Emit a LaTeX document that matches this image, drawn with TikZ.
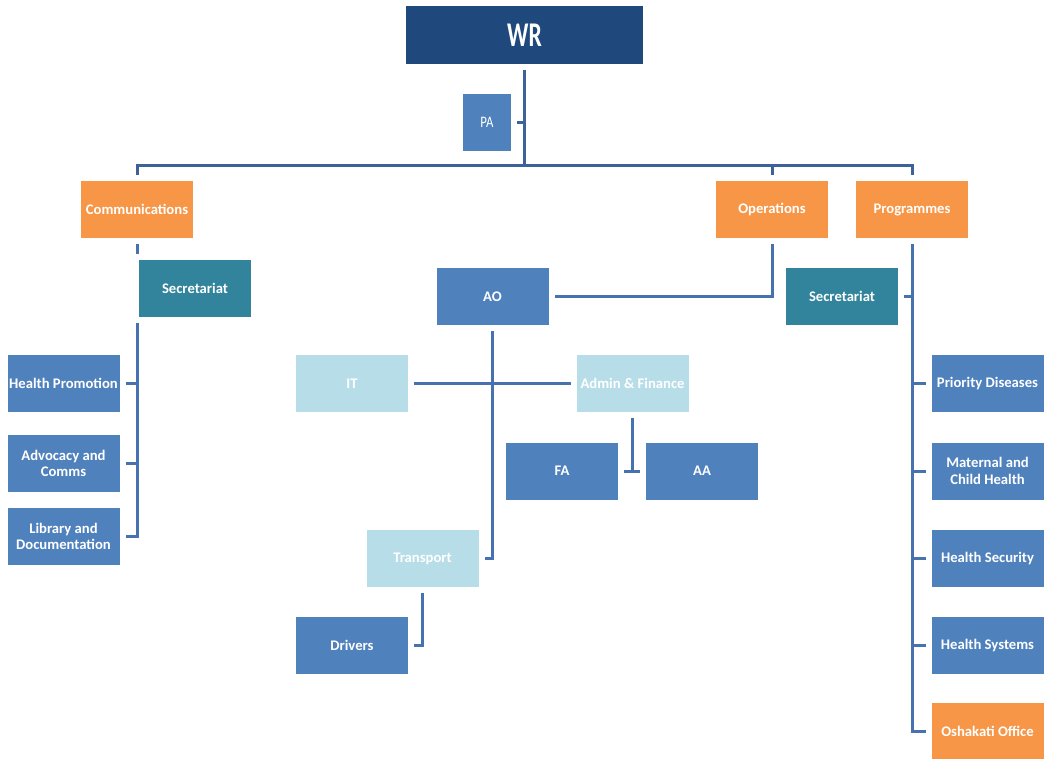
\documentclass[tikz,border=0pt]{standalone}
\usepackage{fontspec}
\setmainfont{Carlito}
\usetikzlibrary{backgrounds}
\definecolor{navy}{HTML}{1F497D}
\definecolor{unitblue}{HTML}{4F81BD}
\definecolor{deptorange}{HTML}{F79646}
\definecolor{secteal}{HTML}{31849B}
\definecolor{lightunit}{HTML}{B7DDE8}
\definecolor{linkblue}{HTML}{4672B0}
\definecolor{toplink}{HTML}{3D6198}
\tikzset{
  unit/.style = {rectangle, draw = white, line width = 4.5pt, inner sep = 0pt,
    minimum width = 88.5pt, minimum height = 47.25pt, text = white, align = center,
    font = \bfseries\fontsize{11}{12.5}\selectfont},
  dept/.style = {unit, fill = deptorange},
  office/.style = {unit, fill = unitblue},
  sec/.style = {unit, fill = secteal},
  support/.style = {unit, fill = lightunit},
  link/.style = {linkblue, line width = 2.25pt},
  toplinkline/.style = {toplink, line width = 2.25pt}
}

\begin{document}
\begin{tikzpicture}[x = 0.75pt, y = -0.75pt]
\useasboundingbox (0, 0) rectangle (1052, 759);
\node[unit, fill = navy, minimum width = 182.25pt, minimum height = 48pt, font = \bfseries\fontsize{26}{28}\selectfont] (wr) at (524.5, 35) {\scalebox{0.68}[1]{WR}};
\node[office, minimum width = 40.5pt, font = \fontsize{12}{14}\selectfont] (pa) at (487, 122.5) {\scalebox{0.8}[1]{PA}};
\node[dept] (comm) at (137, 209.5) {Communications};
\node[dept] (ops) at (772, 209.5) {Operations};
\node[dept] (prog) at (912, 209.5) {Programmes};
\node[sec] (seccomm) at (195, 288.5) {Secretariat};
\node[office] (ao) at (492.5, 296.5) {AO};
\node[sec] (secprog) at (842, 296.5) {Secretariat};
\node[office] (hp) at (63.5, 383.5) {Health Promotion};
\node[office] (adv) at (63.5, 463.5) {Advocacy and\\Comms};
\node[office] (lib) at (63.5, 536.5) {Library and\\Documentation};
\node[support] (it) at (352, 383.5) {IT};
\node[support] (af) at (632.5, 383.5) {Admin \& Finance};
\node[office] (fa) at (562, 471) {FA};
\node[office] (aa) at (702, 471) {AA};
\node[support] (tr) at (422.5, 558.5) {Transport};
\node[office] (dr) at (352, 645.5) {Drivers};
\node[office] (pd) at (987.5, 383.5) {Priority Diseases};
\node[office] (mch) at (987.5, 471) {Maternal and\\Child Health};
\node[office] (hsec) at (987.5, 558.5) {Health Security};
\node[office] (hsys) at (987.5, 645.5) {Health Systems};
\node[dept] (osh) at (987.5, 731) {Oshakati Office};
\coordinate (bus) at (524.5, 166);
\begin{pgfonlayer}{background}
\draw[toplinkline] (wr.south) -- (bus);
\draw[toplinkline] (pa.east) -- (pa.east -| wr.south);
\draw[toplinkline] (comm.north) -- (comm.north |- bus) -- (prog.north |- bus) -- (prog.north);
\draw[toplinkline] (ops.north) -- (ops.north |- bus);
\draw[link] (comm.south) |- (lib.east);
\draw[link] (hp.east) -- (hp.east -| comm.south);
\draw[link] (adv.east) -- (adv.east -| comm.south);
\draw[link] (ops.south) |- (ao.east);
\draw[link] (ao.south) |- (tr.east);
\draw[link] (it.east) -- (af.west);
\draw[link] (af.south) -- (af.south |- fa.east);
\draw[link] (fa.east) -- (aa.west);
\draw[link] (tr.south) |- (dr.east);
\draw[link] (prog.south) |- (osh.west);
\draw[link] (secprog.east) -- (secprog.east -| prog.south);
\foreach \child in {pd, mch, hsec, hsys}
  \draw[link] (\child.west) -- (\child.west -| prog.south);
\end{pgfonlayer}
\end{tikzpicture}
\end{document}
